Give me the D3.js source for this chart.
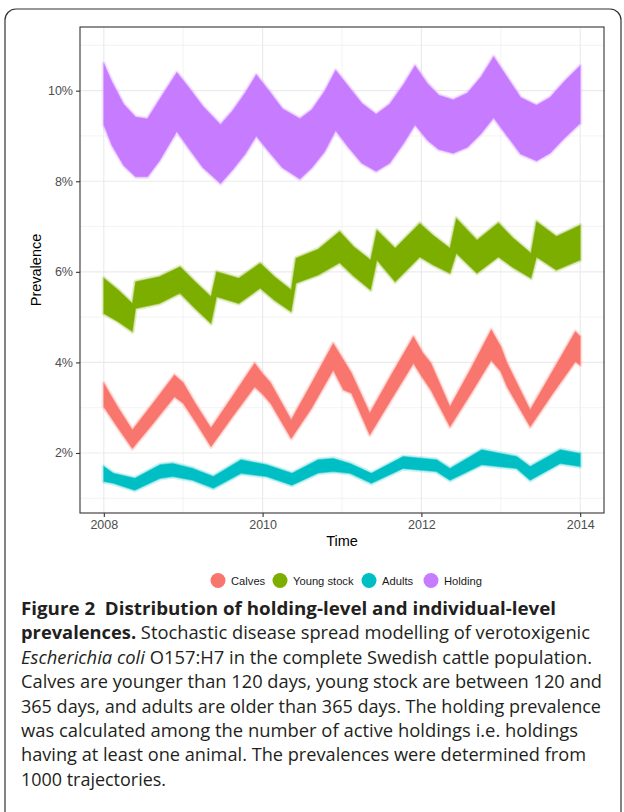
<!DOCTYPE html>
<html><head><meta charset="utf-8">
<script src="https://cdn.jsdelivr.net/npm/d3@7"></script>
<style>body{margin:0;background:#fff} svg{display:block}</style>
</head><body>
<svg id="c" width="624" height="812"></svg>
<script>
// ---------------- data (prevalence in %) ----------------
const categories = ["Calves", "Young stock", "Adults", "Holding"];
const colors = ["#F8766D", "#7CAE00", "#00BFC4", "#C77CFF"];

const holdingT  = [2008.00,2008.10,2008.25,2008.40,2008.55,2008.70,2008.92,2009.08,2009.25,2009.47,2009.62,2009.78,2009.92,2010.08,2010.25,2010.47,2010.62,2010.78,2010.92,2011.08,2011.25,2011.43,2011.60,2011.78,2011.92,2012.08,2012.22,2012.40,2012.58,2012.75,2012.91,2013.08,2013.25,2013.45,2013.62,2013.80,2014.00];
const holdingHi = [10.60,10.20,9.70,9.42,9.38,9.80,10.40,10.05,9.65,9.25,9.55,9.95,10.35,10.00,9.60,9.38,9.58,9.98,10.45,10.10,9.72,9.48,9.70,10.15,10.55,10.15,9.90,9.80,9.95,10.30,10.75,10.30,9.85,9.68,9.85,10.20,10.55];
const holdingLo = [9.25,8.80,8.35,8.10,8.10,8.45,9.10,8.70,8.30,7.95,8.25,8.60,9.00,8.65,8.30,8.05,8.30,8.65,9.12,8.75,8.40,8.22,8.40,8.85,9.25,8.90,8.70,8.62,8.75,9.05,9.40,9.00,8.60,8.45,8.62,8.95,9.28];

const youngT  = [2008.00,2008.18,2008.36,2008.40,2008.70,2008.96,2009.15,2009.35,2009.42,2009.70,2009.97,2010.15,2010.36,2010.42,2010.70,2010.97,2011.15,2011.36,2011.44,2011.67,2011.98,2012.15,2012.36,2012.44,2012.70,2012.97,2013.15,2013.38,2013.45,2013.70,2014.00];
const youngHi = [5.86,5.60,5.30,5.78,5.89,6.11,5.78,5.45,6.00,5.86,6.19,5.89,5.60,6.30,6.50,6.89,6.55,6.26,6.92,6.52,7.07,6.80,6.52,7.18,6.70,7.08,6.75,6.41,7.11,6.78,7.03];
const youngLo = [5.08,4.90,4.68,5.19,5.30,5.53,5.19,4.86,5.45,5.30,5.64,5.37,5.12,5.75,5.93,6.20,5.90,5.60,6.26,5.78,6.33,6.15,5.97,6.41,5.97,6.33,6.10,5.86,6.33,6.04,6.26];

const calvesT  = [2008.00,2008.18,2008.36,2008.62,2008.89,2009.00,2009.15,2009.35,2009.62,2009.90,2010.00,2010.10,2010.36,2010.62,2010.89,2011.02,2011.12,2011.35,2011.62,2011.90,2012.02,2012.12,2012.36,2012.62,2012.88,2013.00,2013.08,2013.37,2013.65,2013.94,2014.00];
const calvesHi = [3.54,3.00,2.51,3.10,3.72,3.55,3.10,2.55,3.25,3.98,3.75,3.55,2.73,3.55,4.42,4.05,3.76,2.88,3.72,4.57,4.20,3.98,3.02,3.85,4.72,4.35,3.98,2.95,3.80,4.68,4.57];
const calvesLo = [3.02,2.55,2.10,2.65,3.24,3.10,2.70,2.14,2.80,3.46,3.30,3.10,2.32,3.00,3.83,3.39,3.32,2.40,3.18,3.98,3.65,3.39,2.58,3.30,4.05,3.80,3.46,2.58,3.30,4.02,3.94];

const adultsT  = [2008.00,2008.12,2008.39,2008.71,2008.87,2009.12,2009.38,2009.73,2010.05,2010.37,2010.70,2010.89,2011.10,2011.37,2011.77,2012.19,2012.36,2012.76,2013.20,2013.37,2013.75,2014.00];
const adultsHi = [1.70,1.55,1.44,1.74,1.77,1.66,1.48,1.85,1.74,1.55,1.85,1.88,1.77,1.55,1.92,1.85,1.66,2.07,1.92,1.70,2.07,1.99];
const adultsLo = [1.37,1.33,1.18,1.44,1.48,1.40,1.22,1.55,1.48,1.29,1.56,1.59,1.55,1.33,1.66,1.59,1.40,1.74,1.66,1.40,1.77,1.70];

const xTicks = [2008, 2010, 2012, 2014];
const xMinor = [2009, 2011, 2013];
const yTicks = [2, 4, 6, 8, 10];
const yMinor = [1, 3, 5, 7, 9, 11];
const xTitle = "Time";
const yTitle = "Prevalence";

const captionLines = [
  [["b","Figure 2"],["b","\u00a0\u00a0Distribution of holding-level and individual-level"]],
  [["b","prevalences."],["n"," Stochastic disease spread modelling of verotoxigenic"]],
  [["i","Escherichia coli"],["n"," O157:H7 in the complete Swedish cattle population."]],
  [["n","Calves are younger than 120 days, young stock are between 120 and"]],
  [["n","365 days, and adults are older than 365 days. The holding prevalence"]],
  [["n","was calculated among the number of active holdings i.e. holdings"]],
  [["n","having at least one animal. The prevalences were determined from"]],
  [["n","1000 trajectories."]]
];
const captionWidths = [535, 569, 571, 581, 580, 557, 565, 145];

// ---------------- drawing ----------------
const svg = d3.select("#c");
const panel = {left: 80, right: 604, top: 27, bottom: 513};

// outer frame
svg.append("rect").attr("x", 5).attr("y", 9).attr("width", 616).attr("height", 830)
  .attr("rx", 11).attr("fill", "none").attr("stroke", "#333").attr("stroke-width", 1.2);

const x = d3.scaleLinear().domain([2007.7, 2014.3]).range([panel.left, panel.right]);
const y = d3.scaleLinear().domain([0.675, 11.406]).range([panel.bottom, panel.top]);

const g = svg.append("g");
g.append("rect").attr("x", panel.left).attr("y", panel.top)
  .attr("width", panel.right - panel.left).attr("height", panel.bottom - panel.top).attr("fill", "#fff");
g.selectAll(".ymin").data(yMinor).join("line")
  .attr("x1", panel.left).attr("x2", panel.right).attr("y1", d => y(d)).attr("y2", d => y(d))
  .attr("stroke", "#F0F0F0").attr("stroke-width", 0.8);
g.selectAll(".xmin").data(xMinor).join("line")
  .attr("y1", panel.top).attr("y2", panel.bottom).attr("x1", d => x(d)).attr("x2", d => x(d))
  .attr("stroke", "#F0F0F0").attr("stroke-width", 0.8);
g.selectAll(".ymaj").data(yTicks).join("line")
  .attr("x1", panel.left).attr("x2", panel.right).attr("y1", d => y(d)).attr("y2", d => y(d))
  .attr("stroke", "#EBEBEB").attr("stroke-width", 1.2);
g.selectAll(".xmaj").data(xTicks).join("line")
  .attr("y1", panel.top).attr("y2", panel.bottom).attr("x1", d => x(d)).attr("x2", d => x(d))
  .attr("stroke", "#EBEBEB").attr("stroke-width", 1.2);

// series bands
const series = [
  {t: calvesT, lo: calvesLo, hi: calvesHi},
  {t: youngT, lo: youngLo, hi: youngHi},
  {t: adultsT, lo: adultsLo, hi: adultsHi},
  {t: holdingT, lo: holdingLo, hi: holdingHi}
];
const area = d3.area().x(d => x(d.t)).y0(d => y(d.lo)).y1(d => y(d.hi)).curve(d3.curveLinear);
series.forEach((s, i) => {
  const pts = s.t.map((t, k) => ({t, lo: s.lo[k], hi: s.hi[k]}));
  g.append("path").attr("d", area(pts)).attr("fill", "none")
    .attr("stroke", colors[i]).attr("stroke-opacity", 0.2).attr("stroke-width", 4.5).attr("stroke-linejoin", "round");
  g.append("path").attr("d", area(pts)).attr("fill", colors[i])
    .attr("stroke", colors[i]).attr("stroke-opacity", 0.45).attr("stroke-width", 1.6).attr("stroke-linejoin", "round");
});

// panel border
g.append("rect").attr("x", panel.left).attr("y", panel.top)
  .attr("width", panel.right - panel.left).attr("height", panel.bottom - panel.top)
  .attr("fill", "none").attr("stroke", "#333").attr("stroke-width", 1.1);

// axes
const fontAx = "'Liberation Sans', Arial, Helvetica, sans-serif";
const xAxis = d3.axisBottom(x).tickValues(xTicks).tickFormat(d3.format("d")).tickSize(4).tickPadding(3);
const yAxis = d3.axisLeft(y).tickValues(yTicks).tickFormat(d => d + "%").tickSize(4).tickPadding(3);
const gx = svg.append("g").attr("transform", `translate(0,${panel.bottom})`).call(xAxis);
const gy = svg.append("g").attr("transform", `translate(${panel.left},0)`).call(yAxis);
[gx, gy].forEach(a => {
  a.select(".domain").remove();
  a.selectAll(".tick line").attr("stroke", "#333").attr("stroke-width", 1.1);
  a.selectAll(".tick text").attr("fill", "#4D4D4D").style("font-family", fontAx).style("font-size", "12.5px");
});
gx.selectAll(".tick text").attr("dy", "0.75em");

svg.append("text").attr("x", (panel.left + panel.right) / 2).attr("y", 546)
  .attr("text-anchor", "middle").style("font-family", fontAx).style("font-size", "14.5px").attr("fill", "#000").text(xTitle);
svg.append("text").attr("transform", `translate(41,${(panel.top + panel.bottom) / 2}) rotate(-90)`)
  .attr("text-anchor", "middle").style("font-family", fontAx).style("font-size", "14.5px").attr("fill", "#000").text(yTitle);

// legend
const legX = [218, 280, 369, 431];
const leg = svg.append("g");
categories.forEach((c, i) => {
  leg.append("circle").attr("cx", legX[i]).attr("cy", 580.5).attr("r", 7.5).attr("fill", colors[i]);
  leg.append("text").attr("x", legX[i] + 13).attr("y", 584.5).style("font-family", fontAx)
    .style("font-size", "11.2px").attr("fill", "#1a1a1a").text(c);
});

// caption: size chosen so that no line must be stretched past its measured width
const cap = svg.append("g").style("font-family", "'Open Sans', 'Noto Sans', sans-serif").attr("fill", "#231F20");
const baseFs = 19;
const texts = captionLines.map((line, i) => {
  const t = cap.append("text").attr("x", 21).attr("y", 615 + i * 24.4).style("font-size", baseFs + "px");
  line.forEach(([st, s]) => {
    const ts = t.append("tspan").text(s);
    if (st === "b") ts.attr("font-weight", "bold");
    if (st === "i") ts.attr("font-style", "italic");
  });
  return t;
});
const ratios = texts.map((t, i) => captionWidths[i] / t.node().getComputedTextLength());
const fs = baseFs * d3.min(ratios.slice(0, 7));
texts.forEach((t, i) => {
  t.style("font-size", fs.toFixed(2) + "px")
   .attr("textLength", captionWidths[i]).attr("lengthAdjust", "spacingAndGlyphs");
});
</script></body></html>
